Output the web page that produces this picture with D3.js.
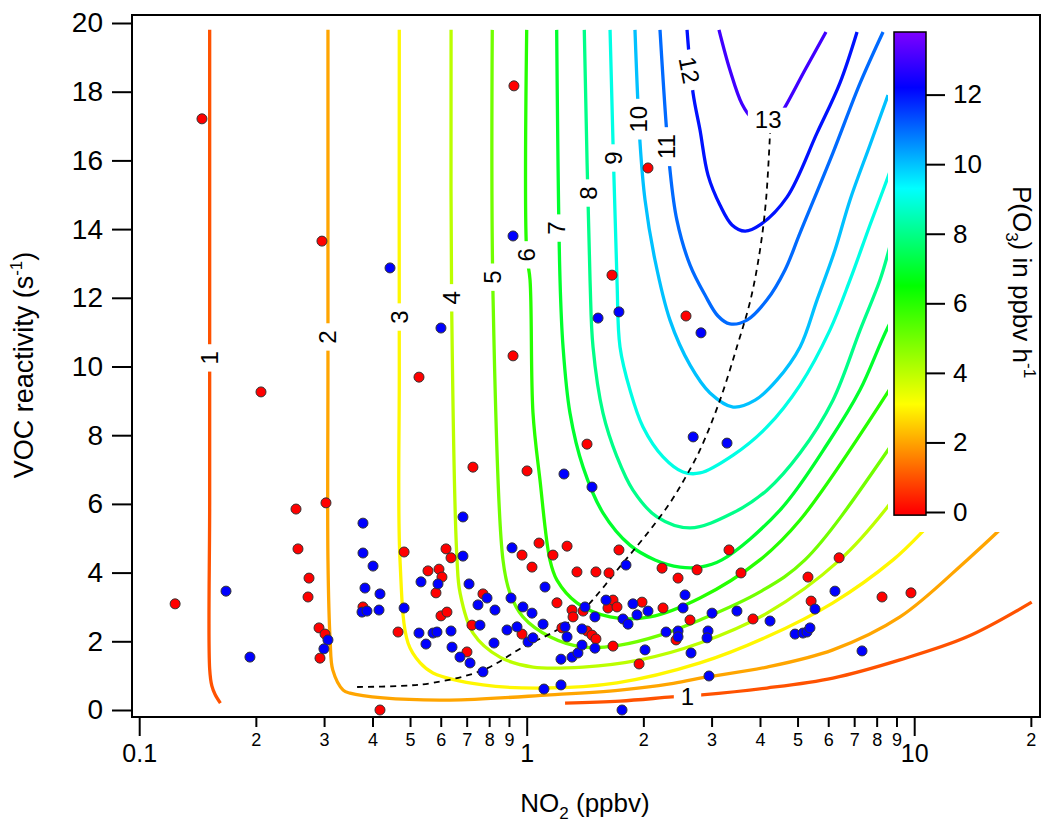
<!DOCTYPE html>
<html><head><meta charset="utf-8">
<script src="https://cdn.jsdelivr.net/npm/d3@7"></script>
<style>body{margin:0;background:#fff} text{font-family:"Liberation Sans",Arial,sans-serif;fill:#000}</style>
</head><body>
<svg id="c" width="1050" height="831"></svg>
<script>
// ---------------- DATA ----------------
// contour lines of P(O3) (NO2 ppbv, VOC reactivity s-1)
const c1a = [[0.152,19.8],[0.152,12],[0.152,6],[0.152,1.2],[0.154,0.7],[0.157,0.45],[0.162,0.2]];
const c1b = [[1.256,0.2],[1.741,0.26],[2.37,0.38],[2.83,0.44],[4.17,0.64],[6.17,0.93],[9.19,1.46],[13.7,2.13],[20.1,3.14]];
const c2 = [[0.307,19.8],[0.307,10],[0.307,4.37],[0.311,2.04],[0.316,1.16],[0.336,0.58],[0.350,0.49],[0.426,0.35],[0.634,0.29],[1.148,0.44],[1.741,0.58],[2.343,0.76],[2.80,0.93],[4.17,1.25],[6.17,1.75],[9.19,2.71],[13.7,4.37],[16.4,5.18],[19.9,6.11]];
const c3 = [[0.469,19.8],[0.469,10],[0.471,4.37],[0.494,1.95],[0.531,1.37],[0.573,1.08],[0.771,0.73],[1.102,0.64],[1.71,0.79],[2.80,1.37],[4.17,2.13],[6.17,3.12],[8.82,4.37],[10.48,5.18],[13.1,6.4]];
const c4 = [[0.638,19.8],[0.640,12],[0.661,4.37],[0.673,3.41],[0.727,2.24],[0.853,1.54],[1.038,1.25],[1.398,1.25],[1.961,1.46],[2.80,1.95],[4.17,2.82],[6.43,4.37],[8.41,5.82],[10.35,7.28]];
const c5 = [[0.815,19.8],[0.8185,12.1],[0.8685,4.37],[0.905,3.41],[0.978,2.71],[1.148,2.13],[1.398,1.83],[1.741,1.89],[2.21,2.18],[2.80,2.62],[4.0,3.44],[5.225,4.37],[8.56,7.57],[10.35,9.02]];
const c6 = [[1.0,19.8],[1.0,13.3],[1.02,12.52],[1.038,8.65],[1.082,6.70],[1.148,4.37],[1.197,3.78],[1.348,3.12],[1.641,2.71],[2.081,2.71],[2.80,3.26],[4.0,4.37],[5.075,5.53],[8.56,9.26],[10.35,10.77]];
const c7 = [[1.195,19.8],[1.219,12.52],[1.241,10.57],[1.293,8.65],[1.398,7.07],[1.573,5.74],[1.847,4.80],[2.143,4.37],[2.487,4.16],[2.80,4.16],[3.19,4.37],[4.505,5.82],[6.06,7.86],[7.25,9.32],[8.56,11.15],[10.35,12.81]];
const c8 = [[1.408,19.8],[1.457,12.52],[1.483,10.57],[1.573,8.65],[1.71,7.37],[1.88,6.40],[2.169,5.62],[2.64,5.30],[3.41,5.74],[4.17,6.40],[5.075,7.48],[6.17,9.02],[7.25,11.06],[8.16,12.52],[8.56,13.30],[9.3,14.85]];
const c9 = [[1.641,19.8],[1.71,12.52],[1.741,10.57],[1.847,9.32],[1.996,8.24],[2.248,7.37],[2.531,6.93],[2.8,6.9],[3.41,7.42],[4.17,8.24],[5.075,9.46],[6.06,11.06],[6.83,12.52],[7.69,14.12],[8.56,15.52],[9.47,16.89]];
const c10 = [[1.903,19.8],[1.961,16.51],[2.02,14.85],[2.143,13.10],[2.343,11.35],[2.64,10.04],[2.972,9.23],[3.41,8.82],[3.885,9.02],[4.425,9.61],[5.075,10.57],[5.615,11.94],[6.245,13.39],[6.83,14.85],[7.69,16.45],[8.56,17.90]];
const c11 = [[2.208,19.8],[2.343,15.72],[2.441,14.26],[2.64,12.95],[2.885,12.08],[3.116,11.47],[3.346,11.24],[3.702,11.35],[4.17,11.94],[4.64,12.81],[5.075,13.89],[6.17,16.22],[7.25,18.25],[8.31,19.74]];
const c12 = [[2.593,19.8],[2.687,17.96],[2.80,16.89],[2.937,15.57],[3.153,14.70],[3.387,14.12],[3.659,13.94],[4.0,14.12],[4.696,14.93],[5.615,16.80],[6.43,18.25],[7.12,19.74]];
const c13 = [[3.135,19.8],[3.346,18.63],[3.594,17.64],[3.815,17.23],[4.12,17.09],[4.45,17.23],[4.64,17.55],[5.225,18.63],[5.92,19.74]];
const ridge = [[0.365,0.67],[0.471,0.70],[0.573,0.79],[0.771,1.16],[0.978,1.83],[1.197,2.33],[1.398,2.91],[1.772,4.28],[2.081,5.24],[2.343,6.03],[2.562,6.75],[2.80,7.57],[3.153,9.02],[3.50,10.63],[3.781,11.94],[4.0,13.39],[4.146,14.85],[4.246,16.8]];

// contour labels
const labelLevels = [1,2,3,4,5,6,7,8,9,10,11,12,13,1];
const labelX = [0.152,0.307,0.469,0.638,0.815,1.0,1.195,1.44,1.67,1.94,2.30,2.63,4.2,2.6];
const labelY = [10.25,10.86,11.44,12.0,12.6,13.25,14.03,15.05,16.07,17.2,16.4,18.63,17.2,0.38];

// observations: red and blue
const redNO2 = [0.1452,0.2962,0.2062,0.2539,0.3034,0.2569,0.1238,0.2743,0.2727,0.2911,0.3017,0.2928,0.927,1.660,2.056,2.577,0.922,0.5273,1.431,0.7266,1.002,0.4826,0.6191,0.6378,0.9725,1.076,1.169,1.271,1.730,0.5562,0.5938,0.6044,0.5833,0.3780,0.6009,0.6226,0.7711,1.032,1.197,1.348,1.509,1.631,2.235,2.458,2.752,2.248,1.984,1.621,1.670,1.710,1.398,1.309,1.317,2.639,0.4656,0.7012,0.7224,0.9725,1.233,1.431,1.474,1.509,1.670,1.950,2.429,0.4182,3.327,6.40,3.573,5.32,5.42,3.837,8.26,9.81];
const redVOC = [17.21,13.65,9.26,5.85,6.03,4.69,3.09,3.84,3.29,2.39,2.21,1.51,18.17,12.66,15.78,11.47,10.31,9.69,7.74,7.07,6.96,4.60,4.69,4.43,4.51,4.86,4.51,4.77,4.66,4.05,4.10,3.87,3.41,3.00,2.74,2.85,3.38,4.16,3.12,4.02,4.02,3.99,4.13,3.84,4.08,2.97,3.14,2.97,3.20,3.00,2.88,2.91,2.71,2.62,2.27,1.69,2.47,2.21,2.39,2.30,2.18,2.07,1.86,1.34,2.04,0.00,4.66,4.43,3.99,3.87,3.17,2.65,3.29,3.41];
const blueNO2 = [0.1675,0.1931,0.3070,0.2997,0.922,0.4439,1.528,1.730,2.817,0.6008,2.689,1.248,1.474,0.378,0.6847,0.378,0.6847,0.9165,3.288,0.4013,0.5336,0.5904,0.3825,0.4182,0.3758,0.3871,0.4158,0.4826,0.7099,0.7487,0.7899,0.8282,0.9110,0.978,1.032,1.115,1.804,2.562,2.532,2.056,1.880,1.926,1.602,1.414,1.500,1.772,1.826,0.5273,0.5496,0.5732,0.5868,0.6378,0.6416,0.6727,0.7141,0.7711,0.7575,0.8234,0.8895,0.9441,1.008,1.038,1.102,1.256,1.271,1.226,1.309,1.356,1.389,1.389,1.500,2.020,2.289,2.458,2.458,2.655,1.108,1.226,1.762,6.245,5.546,3.008,3.488,4.246,2.937,2.920,4.926,5.164,5.288,5.383,7.334,2.954];
const blueVOC = [3.46,1.54,2.04,1.78,13.80,12.87,11.41,11.59,10.98,11.12,7.95,6.87,6.49,5.44,5.62,4.57,4.48,4.72,7.77,4.19,3.73,3.67,3.55,3.38,2.85,2.88,2.91,2.97,3.67,3.06,3.26,2.91,3.26,3.00,2.82,3.58,4.22,3.35,2.97,2.88,3.09,2.77,3.20,3.00,2.71,2.65,2.50,2.24,1.92,2.24,2.27,2.30,1.83,1.54,1.37,1.11,2.47,1.95,2.33,2.42,1.98,2.10,2.50,2.42,2.13,1.48,1.54,1.66,1.89,2.36,1.80,1.75,2.27,2.30,2.13,1.66,0.61,0.73,0.00,3.46,2.94,2.82,2.88,2.59,2.30,2.10,2.21,2.24,2.27,2.39,1.72,0.99];

// axes / colour bar
const xMajorTicks = [0.1,1,10];
const xMinorTicks = [0.2,0.3,0.4,0.5,0.6,0.7,0.8,0.9,2,3,4,5,6,7,8,9,20];
const yTicks = [0,2,4,6,8,10,12,14,16,18,20];
const cbTicks = [0,2,4,6,8,10,12];
const cbStops = [0,3.1,6.5,9.3,12.2,13.8];
const cbColors = ["#ff0000","#ffff00","#00ff00","#00ffff","#0000ff","#7f00ff"];

// ---------------- CHART ----------------
const svg = d3.select("#c");
const L=132,R=1040,T=15,B=717;
const x = d3.scaleLog().domain([0.1,10]).range([139.2,914.2]);
const y = d3.scaleLinear().domain([0,20]).range([710,23]);
const cb = d3.scaleLinear().domain([0,13.8]).range([512,32]);
const color = d3.scaleLinear().domain(cbStops).range(cbColors).interpolate(d3.interpolateRgb);

const defs = svg.append("defs");
defs.append("clipPath").attr("id","clip").append("rect").attr("x",L).attr("y",T).attr("width",R-L).attr("height",B-T);
const plot = svg.append("g").attr("clip-path","url(#clip)");

const contours = [[1,c1a],[1,c1b],[2,c2],[3,c3],[4,c4],[5,c5],[6,c6],[7,c7],[8,c8],[9,c9],[10,c10],[11,c11],[12,c12],[13,c13]];
const line = d3.line().x(d=>x(d[0])).y(d=>y(d[1])).curve(d3.curveCatmullRom.alpha(0.5));
contours.forEach(([lev,pts])=>{
  plot.append("path").attr("d",line(pts)).attr("fill","none")
    .attr("stroke",color(lev)).attr("stroke-width",3.3).attr("stroke-linecap","butt");
});

// white panel behind the colour scale
plot.append("rect").attr("x",888).attr("y",T).attr("width",R-888).attr("height",532-T).attr("fill","#fff");

// contour labels
labelLevels.forEach((lev,i)=>{
  let ang = -90;
  if (lev===12) ang = 79;
  if (lev===13 || i===13) ang = 0;
  const g = plot.append("g").attr("transform",`translate(${x(labelX[i])},${y(labelY[i])}) rotate(${ang})`);
  const t = g.append("text").attr("text-anchor","middle").attr("dominant-baseline","central")
    .style("font-size","24px").text(lev);
  const bb = t.node().getBBox();
  g.insert("rect","text").attr("x",bb.x-7).attr("y",bb.y+2).attr("width",bb.width+14).attr("height",bb.height-4).attr("fill","#fff");
});

// ridge line
plot.append("path").attr("d",line(ridge)).attr("fill","none").attr("stroke","#000")
  .attr("stroke-width",1.8).attr("stroke-dasharray","6,5");

// points
const red = redNO2.map((v,i)=>[v,redVOC[i]]);
const blue = blueNO2.map((v,i)=>[v,blueVOC[i]]);
plot.selectAll("circle.r").data(red).join("circle").attr("class","r")
  .attr("cx",d=>x(d[0])).attr("cy",d=>y(d[1])).attr("r",5).attr("fill","#ff0000").attr("stroke","#333").attr("stroke-width",1);
plot.selectAll("circle.b").data(blue).join("circle").attr("class","b")
  .attr("cx",d=>x(d[0])).attr("cy",d=>y(d[1])).attr("r",5).attr("fill","#0000ff").attr("stroke","#333").attr("stroke-width",1);

// frame
svg.append("rect").attr("x",L).attr("y",T).attr("width",R-L).attr("height",B-T).attr("fill","none").attr("stroke","#000").attr("stroke-width",2);

// x axis
const gxMin = svg.append("g").attr("transform",`translate(0,${B})`)
  .call(d3.axisBottom(x).tickValues(xMinorTicks).tickSize(10).tickPadding(6).tickFormat(d=>String(d).replace("0.","").replace(/^20$/,"2")));
const gxMaj = svg.append("g").attr("transform",`translate(0,${B})`)
  .call(d3.axisBottom(x).tickValues(xMajorTicks).tickSize(19).tickPadding(8).tickFormat(d=>d===0.1?"0.1":String(d)));
[gxMin,gxMaj].forEach(g=>{g.select(".domain").remove(); g.selectAll("line").attr("stroke","#000").attr("stroke-width",2);});
gxMin.selectAll("text").style("font-size","18px").attr("font-family",null);
gxMaj.selectAll("text").style("font-size","25px").attr("font-family",null);

// y axis
const gy = svg.append("g").attr("transform",`translate(${L},0)`)
  .call(d3.axisLeft(y).tickValues(yTicks).tickSize(20).tickPadding(9));
gy.select(".domain").remove();
gy.selectAll("line").attr("stroke","#000").attr("stroke-width",2);
gy.selectAll("text").style("font-size","28px").attr("font-family",null);

// axis titles
const yt = svg.append("text").attr("transform","translate(33,365) rotate(-90)").attr("text-anchor","middle").style("font-size","27px");
yt.append("tspan").text("VOC reactivity (s");
yt.append("tspan").text("-1").style("font-size","17px").attr("dy","-11");
yt.append("tspan").text(")").attr("dy","11");
const xt = svg.append("text").attr("x",585).attr("y",812).attr("text-anchor","middle").style("font-size","26px");
xt.append("tspan").text("NO");
xt.append("tspan").text("2").style("font-size","17px").attr("dy","7");
xt.append("tspan").text(" (ppbv)").attr("dy","-7");

// colour bar
const grad = defs.append("linearGradient").attr("id","cbg").attr("gradientUnits","userSpaceOnUse")
  .attr("x1",0).attr("x2",0).attr("y1",cb(0)).attr("y2",cb(13.8));
cbStops.forEach((v,i)=>grad.append("stop").attr("offset",v/13.8).attr("stop-color",cbColors[i]));
svg.append("rect").attr("x",894).attr("y",cb(13.8)).attr("width",32).attr("height",cb(-0.09)-cb(13.8))
  .attr("fill","url(#cbg)").attr("stroke","#000").attr("stroke-width",1.5);
const gcb = svg.append("g").attr("transform","translate(926,0)")
  .call(d3.axisRight(cb).tickValues(cbTicks).tickSize(19).tickPadding(8));
gcb.select(".domain").remove();
gcb.selectAll("line").attr("stroke","#000").attr("stroke-width",2);
gcb.selectAll("text").style("font-size","26px").attr("font-family",null);
const ct = svg.append("text").attr("transform","translate(1013,282) rotate(90)").attr("text-anchor","middle").style("font-size","26px");
ct.append("tspan").text("P(O");
ct.append("tspan").text("3").style("font-size","17px").attr("dy","7");
ct.append("tspan").text(") in ppbv h").attr("dy","-7");
ct.append("tspan").text("-1").style("font-size","17px").attr("dy","-11");
</script>
</body></html>
